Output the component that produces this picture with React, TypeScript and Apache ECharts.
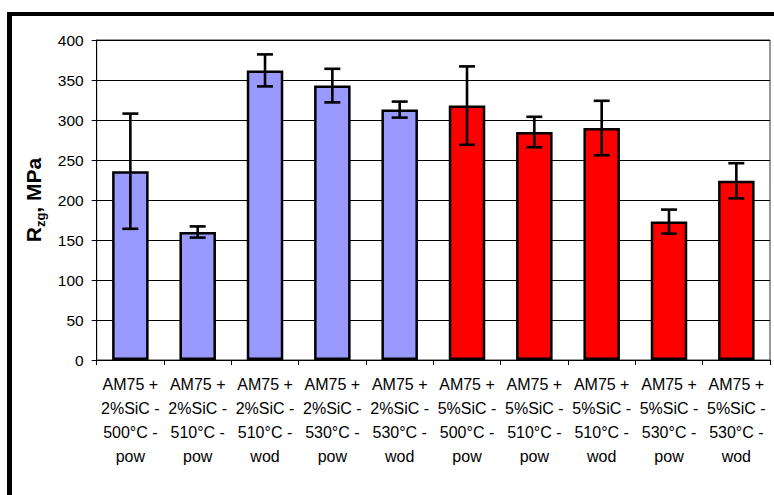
import React, { useEffect, useRef } from "react";
import * as echarts from "echarts";

const categories = [
  "AM75 +\n2%SiC -\n500°C -\npow",
  "AM75 +\n2%SiC -\n510°C -\npow",
  "AM75 +\n2%SiC -\n510°C -\nwod",
  "AM75 +\n2%SiC -\n530°C -\npow",
  "AM75 +\n2%SiC -\n530°C -\nwod",
  "AM75 +\n5%SiC -\n500°C -\npow",
  "AM75 +\n5%SiC -\n510°C -\npow",
  "AM75 +\n5%SiC -\n510°C -\nwod",
  "AM75 +\n5%SiC -\n530°C -\npow",
  "AM75 +\n5%SiC -\n530°C -\nwod",
];
const values = [236, 160, 362, 343, 313, 318, 285, 290, 173, 224];
const errors = [72, 7, 20, 21, 10, 49, 19, 34, 15, 22];
const barColors = [
  "#9999FF", "#9999FF", "#9999FF", "#9999FF", "#9999FF",
  "#FF0000", "#FF0000", "#FF0000", "#FF0000", "#FF0000",
];
const yTicks = { min: 0, max: 400, interval: 50 };

const FONT = "'Liberation Sans', Arial, sans-serif";

export default function App() {
  const ref = useRef<HTMLDivElement>(null);
  useEffect(() => {
    if (!ref.current) return;
    const chart = echarts.init(ref.current, undefined, { renderer: "svg" });
    const errData = values.map((v, i) => [i, v - errors[i], v + errors[i]]);
    chart.setOption({
      animation: false,
      backgroundColor: "#fff",
      grid: {
        left: 96.7,
        right: 4,
        top: 40,
        bottom: 135,
        show: true,
        borderColor: "#333",
        borderWidth: 1,
        backgroundColor: "transparent",
      },
      xAxis: {
        type: "category",
        data: categories,
        axisLine: { lineStyle: { color: "#000", width: 1 } },
        axisTick: { show: true, length: 5, lineStyle: { color: "#000" } },
        axisLabel: {
          interval: 0,
          color: "#000",
          fontFamily: FONT,
          fontSize: 16,
          lineHeight: 24,
          margin: 12,
        },
      },
      yAxis: {
        type: "value",
        min: yTicks.min,
        max: yTicks.max,
        interval: yTicks.interval,
        axisLine: { show: true, lineStyle: { color: "#000", width: 1 } },
        axisTick: { show: true, length: 5, lineStyle: { color: "#000" } },
        axisLabel: { color: "#000", fontFamily: FONT, fontSize: 15.5, margin: 13 },
        splitLine: { show: true, lineStyle: { color: "#000", width: 1 } },
        name: "{r|R}{s|zg}{r|, MPa}",
        nameLocation: "middle",
        nameRotate: 90,
        nameGap: 47,
        nameTextStyle: {
          rich: {
            r: { fontFamily: FONT, fontSize: 21, fontWeight: "bold", color: "#000", lineHeight: 26, verticalAlign: "middle" },
            s: { fontFamily: FONT, fontSize: 13, fontWeight: "bold", color: "#000", lineHeight: 13, verticalAlign: "bottom" },
          },
        },
      },
      graphic: [
        { type: "line", shape: { x1: 7, y1: 14, x2: 774, y2: 14 }, style: { stroke: "#000", lineWidth: 4 }, z: 100 },
        { type: "line", shape: { x1: 9.5, y1: 12, x2: 9.5, y2: 495 }, style: { stroke: "#000", lineWidth: 5 }, z: 100 },
      ],
      series: [
        {
          type: "bar",
          barWidth: 36.5,
          data: values.map((v, i) => ({
            value: v,
            itemStyle: { color: barColors[i], borderColor: "#000", borderWidth: 2.5 },
          })),
          z: 2,
        },
        {
          type: "custom",
          z: 5,
          data: errData,
          renderItem: (params: any, api: any) => {
            const x = api.value(0);
            const lo = api.coord([x, api.value(1)]);
            const hi = api.coord([x, api.value(2)]);
            const hw = 8;
            const style = { stroke: "#000", lineWidth: 2.6 };
            return {
              type: "group",
              children: [
                { type: "line", shape: { x1: hi[0], y1: hi[1], x2: lo[0], y2: lo[1] }, style },
                { type: "line", shape: { x1: hi[0] - hw, y1: hi[1], x2: hi[0] + hw, y2: hi[1] }, style },
                { type: "line", shape: { x1: lo[0] - hw, y1: lo[1], x2: lo[0] + hw, y2: lo[1] }, style },
              ],
            };
          },
        },
      ],
    });
    return () => chart.dispose();
  }, []);
  return <div ref={ref} style={{ width: 774, height: 495, position: "absolute", left: 0, top: 0 }} />;
}
